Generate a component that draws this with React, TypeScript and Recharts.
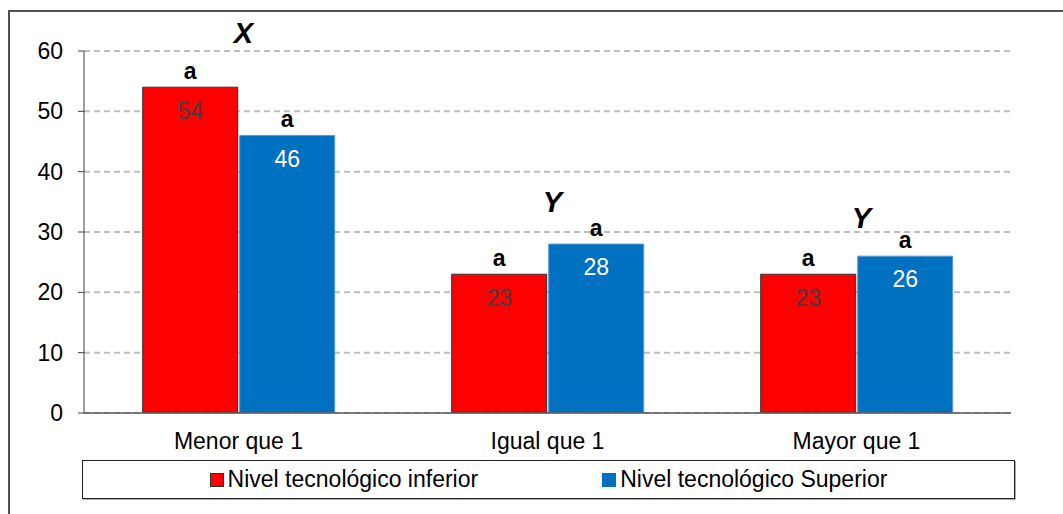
import React from "react";
import {
  Bar,
  CartesianGrid,
  ComposedChart,
  LabelList,
  ReferenceDot,
  XAxis,
  YAxis,
} from "recharts";

const categories = ["Menor que 1", "Igual que 1", "Mayor que 1"];
const inferior = [54, 23, 23];
const superior = [46, 28, 26];
const sigInferior = ["a", "a", "a"];
const sigSuperior = ["a", "a", "a"];
// letra de grupo y la altura (en unidades del eje) donde va escrita
const groupLetters = ["X", "Y", "Y"];
const groupLetterLevel = [63, 35, 32.4];
const yTicks = [0, 10, 20, 30, 40, 50, 60];

const RED = "#FF0000";
const BLUE = "#0070C0";
const FONT = '"Liberation Sans", Arial, sans-serif';

const data = categories.map((name, i) => ({
  name,
  inferior: inferior[i],
  superior: superior[i],
  sigInferior: sigInferior[i],
  sigSuperior: sigSuperior[i],
}));

function LegendItem({ color, border, label }: { color: string; border: string; label: string }) {
  return (
    <div style={{ display: "flex", alignItems: "center" }}>
      <span
        style={{
          display: "inline-block",
          width: 12,
          height: 12,
          background: color,
          border: `1px solid ${border}`,
          marginRight: 4,
        }}
      />
      <span>{label}</span>
    </div>
  );
}

export default function App() {
  return (
    <div
      style={{
        position: "relative",
        width: 1063,
        height: 514,
        background: "#fff",
        fontFamily: FONT,
        overflow: "hidden",
      }}
    >
      <style>{"body{margin:0;overflow:hidden}"}</style>
      <div
        style={{
          position: "absolute",
          left: 8,
          top: 10,
          width: 1060,
          height: 510,
          borderTop: "2px solid #505050",
          borderLeft: "2px solid #505050",
          boxSizing: "border-box",
        }}
      />
      <div style={{ position: "absolute", left: 0, top: 0 }}>
        <ComposedChart
          width={1063}
          height={514}
          data={data}
          margin={{ top: 51, right: 52, bottom: 61, left: 14 }}
          barCategoryGap="19%"
          barGap={2}
        >
          <CartesianGrid
            vertical={false}
            stroke="#BEBEBE"
            strokeWidth={2}
            strokeDasharray="6 4"
          />
          <XAxis
            dataKey="name"
            height={40}
            tickLine={false}
            tickSize={6}
            tickMargin={14}
            axisLine={{ stroke: "#595959", strokeWidth: 1.5 }}
            tick={{ fill: "#000", fontSize: 23, fontFamily: FONT }}
          />
          <YAxis
            width={70}
            domain={[0, 60]}
            ticks={yTicks}
            allowDataOverflow
            tickSize={6}
            tickMargin={15}
            axisLine={{ stroke: "#404040", strokeWidth: 1 }}
            tickLine={{ stroke: "#404040", strokeWidth: 1 }}
            tick={{ fill: "#000", fontSize: 23, fontFamily: FONT }}
          />
          <Bar
            dataKey="inferior"
            fill={RED}
            stroke="#303030"
            strokeWidth={1}
            isAnimationActive={false}
          >
            <LabelList
              dataKey="inferior"
              position="insideTop"
              offset={15}
              fill="#404040"
              fontSize={23}
              fontFamily={FONT}
            />
            <LabelList
              dataKey="sigInferior"
              position="top"
              offset={8}
              fill="#000"
              fontSize={23}
              fontWeight="bold"
              fontFamily={FONT}
            />
          </Bar>
          <Bar
            dataKey="superior"
            fill={BLUE}
            stroke="#5B9BD5"
            strokeWidth={1}
            isAnimationActive={false}
          >
            <LabelList
              dataKey="superior"
              position="insideTop"
              offset={15}
              fill="#fff"
              fontSize={23}
              fontFamily={FONT}
            />
            <LabelList
              dataKey="sigSuperior"
              position="top"
              offset={8}
              fill="#000"
              fontSize={23}
              fontWeight="bold"
              fontFamily={FONT}
            />
          </Bar>
          {categories.map((cat, i) => (
            <ReferenceDot
              key={cat}
              x={cat}
              y={groupLetterLevel[i]}
              r={0}
              fill="none"
              stroke="none"
              ifOverflow="visible"
              label={{
                value: groupLetters[i],
                position: "center",
                fill: "#000",
                fontSize: 29,
                fontWeight: "bold",
                fontStyle: "italic",
                fontFamily: FONT,
                dx: 5,
              }}
            />
          ))}
        </ComposedChart>
      </div>
      <div
        style={{
          position: "absolute",
          left: 82,
          top: 460,
          width: 933,
          height: 39,
          border: "1.5px solid #222",
          boxShadow: "1px 1px 0 #aaa",
          boxSizing: "border-box",
          display: "flex",
          alignItems: "center",
          justifyContent: "center",
          gap: 124,
          fontSize: 23,
          color: "#000",
        }}
      >
        <LegendItem color={RED} border="#303030" label="Nivel tecnológico inferior" />
        <LegendItem color={BLUE} border={BLUE} label="Nivel tecnológico Superior" />
      </div>
    </div>
  );
}
